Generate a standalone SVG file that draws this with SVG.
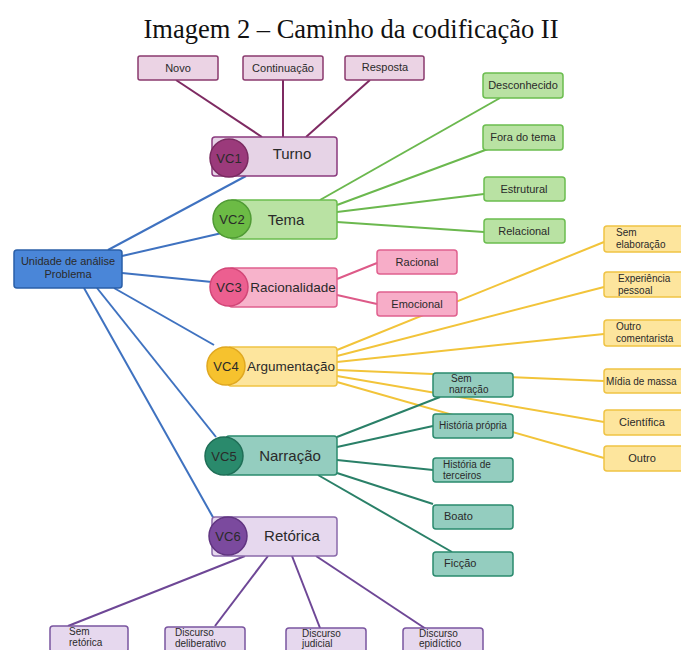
<svg xmlns="http://www.w3.org/2000/svg" width="681" height="650" viewBox="0 0 681 650">
<style>
text{font-family:"Liberation Sans",Arial,sans-serif;fill:#2a2a2a}
.t{font-family:"Liberation Serif","Times New Roman",serif;font-size:26.5px;fill:#111}
.s{font-size:11px}
.xs{font-size:10px}
.m{font-size:15px}
.vc{font-size:13px}
.l{fill:none;stroke-width:2}
.bl{stroke:#3f72c0}.pu{stroke:#7e2a62}.gr{stroke:#6bb84e}.pk{stroke:#dd5a88}.ye{stroke:#f2c43a}.te{stroke:#2a8068}.vi{stroke:#6e4796}
.n1{fill:#ebd3e4;stroke:#8a3a6e;stroke-width:1.5}
.n2{fill:#b9e2a3;stroke:#6bbd4f;stroke-width:1.5}
.n3{fill:#f7adc8;stroke:#e0608e;stroke-width:1.5}
.n4{fill:#fde59d;stroke:#efc344;stroke-width:1.5}
.n5{fill:#94cdbf;stroke:#2a8a6e;stroke-width:1.5}
.n6{fill:#e6d8ee;stroke:#7a55a0;stroke-width:1.5}
</style>
<text class="t" x="351" y="38" text-anchor="middle">Imagem 2 – Caminho da codificação II</text>
<g id="connectors">
<line class="l pu" x1="176" y1="80" x2="262" y2="137"/>
<line class="l pu" x1="283" y1="80" x2="283" y2="137"/>
<line class="l pu" x1="370" y1="80" x2="306" y2="137"/>
<line class="l bl" x1="108" y1="250" x2="246" y2="176"/>
<line class="l bl" x1="122" y1="256" x2="222" y2="233"/>
<line class="l bl" x1="122" y1="273" x2="212" y2="282"/>
<line class="l bl" x1="114" y1="288" x2="214" y2="345"/>
<line class="l bl" x1="97" y1="288" x2="216" y2="437"/>
<line class="l bl" x1="84" y1="288" x2="214" y2="519"/>
<line class="l gr" x1="320" y1="200" x2="500" y2="98"/>
<line class="l gr" x1="337" y1="205" x2="488" y2="149"/>
<line class="l gr" x1="337" y1="212" x2="484" y2="194"/>
<line class="l gr" x1="337" y1="222" x2="484" y2="232"/>
<line class="l pk" x1="337" y1="279" x2="377" y2="263"/>
<line class="l pk" x1="337" y1="295" x2="377" y2="304"/>
<line class="l ye" x1="337" y1="350" x2="604" y2="242"/>
<line class="l ye" x1="337" y1="356" x2="604" y2="287"/>
<line class="l ye" x1="337" y1="362" x2="604" y2="334"/>
<line class="l ye" x1="337" y1="370" x2="604" y2="381"/>
<line class="l ye" x1="337" y1="376" x2="604" y2="422"/>
<line class="l ye" x1="337" y1="382" x2="604" y2="458"/>
<line class="l te" x1="337" y1="437" x2="440" y2="397"/>
<line class="l te" x1="337" y1="447" x2="433" y2="426"/>
<line class="l te" x1="337" y1="460" x2="433" y2="470"/>
<line class="l te" x1="337" y1="473" x2="433" y2="504"/>
<line class="l te" x1="318" y1="475" x2="452" y2="552"/>
<line class="l vi" x1="245" y1="556" x2="68" y2="626"/>
<line class="l vi" x1="268" y1="556" x2="215" y2="626"/>
<line class="l vi" x1="292" y1="556" x2="320" y2="628"/>
<line class="l vi" x1="316" y1="556" x2="426" y2="629"/>
</g>
<g id="root">
<rect x="14" y="250" width="108" height="38" rx="3" fill="#4a86d8" stroke="#2a5fa8" stroke-width="1.5"/>
<text class="s" x="68" y="265" text-anchor="middle">Unidade de análise</text>
<text class="s" x="68" y="278" text-anchor="middle">Problema</text>
</g>
<g id="novo"><rect class="n1" x="138" y="56" width="80" height="24" rx="2"/><text class="s" x="178" y="72" text-anchor="middle">Novo</text></g>
<g id="continuacao"><rect class="n1" x="243" y="56" width="80" height="24" rx="2"/><text class="s" x="283" y="72" text-anchor="middle">Continuação</text></g>
<g id="resposta"><rect class="n1" x="345" y="56" width="79" height="24" rx="2"/><text class="s" x="385" y="71" text-anchor="middle">Resposta</text></g>
<g id="vc1">
<rect x="212" y="137" width="125" height="39" rx="3" fill="#e6d3e6" stroke="#8a3a7e" stroke-width="1.5"/>
<circle cx="229" cy="158" r="19" fill="#9b3a7b" stroke="#7a2a60" stroke-width="1.5"/>
<text class="vc" x="229" y="163" text-anchor="middle">VC1</text>
<text class="m" x="292" y="159" text-anchor="middle">Turno</text>
</g>
<g id="vc2">
<rect x="230" y="200" width="107" height="39" rx="3" fill="#b9e2a3" stroke="#6bbd4f" stroke-width="1.5"/>
<circle cx="232" cy="219" r="19" fill="#6cbb45" stroke="#4f9a34" stroke-width="1.5"/>
<text class="vc" x="232" y="224" text-anchor="middle">VC2</text>
<text class="m" x="286" y="225" text-anchor="middle">Tema</text>
</g>
<g id="desconhecido"><rect class="n2" x="483" y="73" width="80" height="25" rx="3"/><text class="s" x="523" y="89" text-anchor="middle">Desconhecido</text></g>
<g id="fora"><rect class="n2" x="483" y="125" width="80" height="25" rx="3"/><text class="s" x="523" y="141" text-anchor="middle">Fora do tema</text></g>
<g id="estrutural"><rect class="n2" x="484" y="177" width="81" height="24" rx="3"/><text class="s" x="524" y="193" text-anchor="middle">Estrutural</text></g>
<g id="relacional"><rect class="n2" x="484" y="219" width="81" height="24" rx="3"/><text class="s" x="524" y="235" text-anchor="middle">Relacional</text></g>
<g id="vc3">
<rect x="229" y="268" width="108" height="39" rx="3" fill="#f7b3cb" stroke="#e0608e" stroke-width="1.5"/>
<circle cx="229" cy="287" r="19" fill="#ec5f90" stroke="#d24677" stroke-width="1.5"/>
<text class="vc" x="229" y="292" text-anchor="middle">VC3</text>
<text class="m" x="293" y="292" text-anchor="middle" style="font-size:13.5px">Racionalidade</text>
</g>
<g id="racional"><rect class="n3" x="377" y="250" width="80" height="24" rx="3"/><text class="s" x="417" y="266" text-anchor="middle">Racional</text></g>
<g id="emocional"><rect class="n3" x="377" y="292" width="80" height="24" rx="3"/><text class="s" x="417" y="308" text-anchor="middle">Emocional</text></g>
<g id="vc4">
<rect x="228" y="347" width="109" height="39" rx="3" fill="#fde59d" stroke="#efc344" stroke-width="1.5"/>
<circle cx="226" cy="366" r="19" fill="#f6c22e" stroke="#e0a820" stroke-width="1.5"/>
<text class="vc" x="226" y="371" text-anchor="middle">VC4</text>
<text class="m" x="291" y="371" text-anchor="middle" style="font-size:13.5px">Argumentação</text>
</g>
<g id="semelab"><rect class="n4" x="604" y="226" width="80" height="26" rx="3"/><text class="xs" x="616" y="236">Sem</text><text class="xs" x="616" y="248">elaboração</text></g>
<g id="experiencia"><rect class="n4" x="604" y="272" width="80" height="25" rx="3"/><text class="xs" x="618" y="282">Experiência</text><text class="xs" x="618" y="294">pessoal</text></g>
<g id="outrocom"><rect class="n4" x="604" y="320" width="80" height="26" rx="3"/><text class="xs" x="616" y="330">Outro</text><text class="xs" x="616" y="342">comentarista</text></g>
<g id="midia"><rect class="n4" x="604" y="369" width="80" height="24" rx="3"/><text class="xs" x="606" y="385">Mídia de massa</text></g>
<g id="cientifica"><rect class="n4" x="604" y="410" width="80" height="25" rx="3"/><text class="s" x="642" y="426" text-anchor="middle">Científica</text></g>
<g id="outro"><rect class="n4" x="604" y="446" width="80" height="25" rx="3"/><text class="s" x="642" y="462" text-anchor="middle">Outro</text></g>
<g id="vc5">
<rect x="226" y="436" width="111" height="39" rx="3" fill="#94cdbf" stroke="#2a8a6e" stroke-width="1.5"/>
<circle cx="224" cy="456" r="19" fill="#2a8a6c" stroke="#1e6e56" stroke-width="1.5"/>
<text class="vc" x="224" y="461" text-anchor="middle">VC5</text>
<text class="m" x="290" y="461" text-anchor="middle">Narração</text>
</g>
<g id="semnarr"><rect class="n5" x="433" y="373" width="80" height="24" rx="3"/><text class="xs" x="451" y="382">Sem</text><text class="xs" x="449" y="393">narração</text></g>
<g id="propria"><rect class="n5" x="433" y="414" width="80" height="24" rx="3"/><text class="xs" x="473" y="429" text-anchor="middle">História própria</text></g>
<g id="terceiros"><rect class="n5" x="433" y="458" width="80" height="24" rx="3"/><text class="xs" x="443" y="468">História de</text><text class="xs" x="443" y="479">terceiros</text></g>
<g id="boato"><rect class="n5" x="433" y="505" width="80" height="24" rx="3"/><text class="s" x="444" y="520">Boato</text></g>
<g id="ficcao"><rect class="n5" x="433" y="552" width="80" height="24" rx="3"/><text class="s" x="444" y="567">Ficção</text></g>
<g id="vc6">
<rect x="212" y="517" width="125" height="39" rx="3" fill="#e6d8ee" stroke="#8a6aaa" stroke-width="1.5"/>
<circle cx="228" cy="536" r="19" fill="#7b4a9e" stroke="#603480" stroke-width="1.5"/>
<text class="vc" x="228" y="541" text-anchor="middle">VC6</text>
<text class="m" x="292" y="541" text-anchor="middle">Retórica</text>
</g>
<g id="semret"><rect class="n6" x="50" y="626" width="78" height="26" rx="3"/><text class="xs" x="69" y="635">Sem</text><text class="xs" x="69" y="646">retórica</text></g>
<g id="delib"><rect class="n6" x="165" y="627" width="80" height="26" rx="3"/><text class="xs" x="175" y="636">Discurso</text><text class="xs" x="175" y="647">deliberativo</text></g>
<g id="judicial"><rect class="n6" x="286" y="628" width="80" height="26" rx="3"/><text class="xs" x="302" y="637">Discurso</text><text class="xs" x="302" y="647">judicial</text></g>
<g id="epid"><rect class="n6" x="403" y="628" width="80" height="26" rx="3"/><text class="xs" x="419" y="637">Discurso</text><text class="xs" x="419" y="647">epidíctico</text></g>
</svg>
